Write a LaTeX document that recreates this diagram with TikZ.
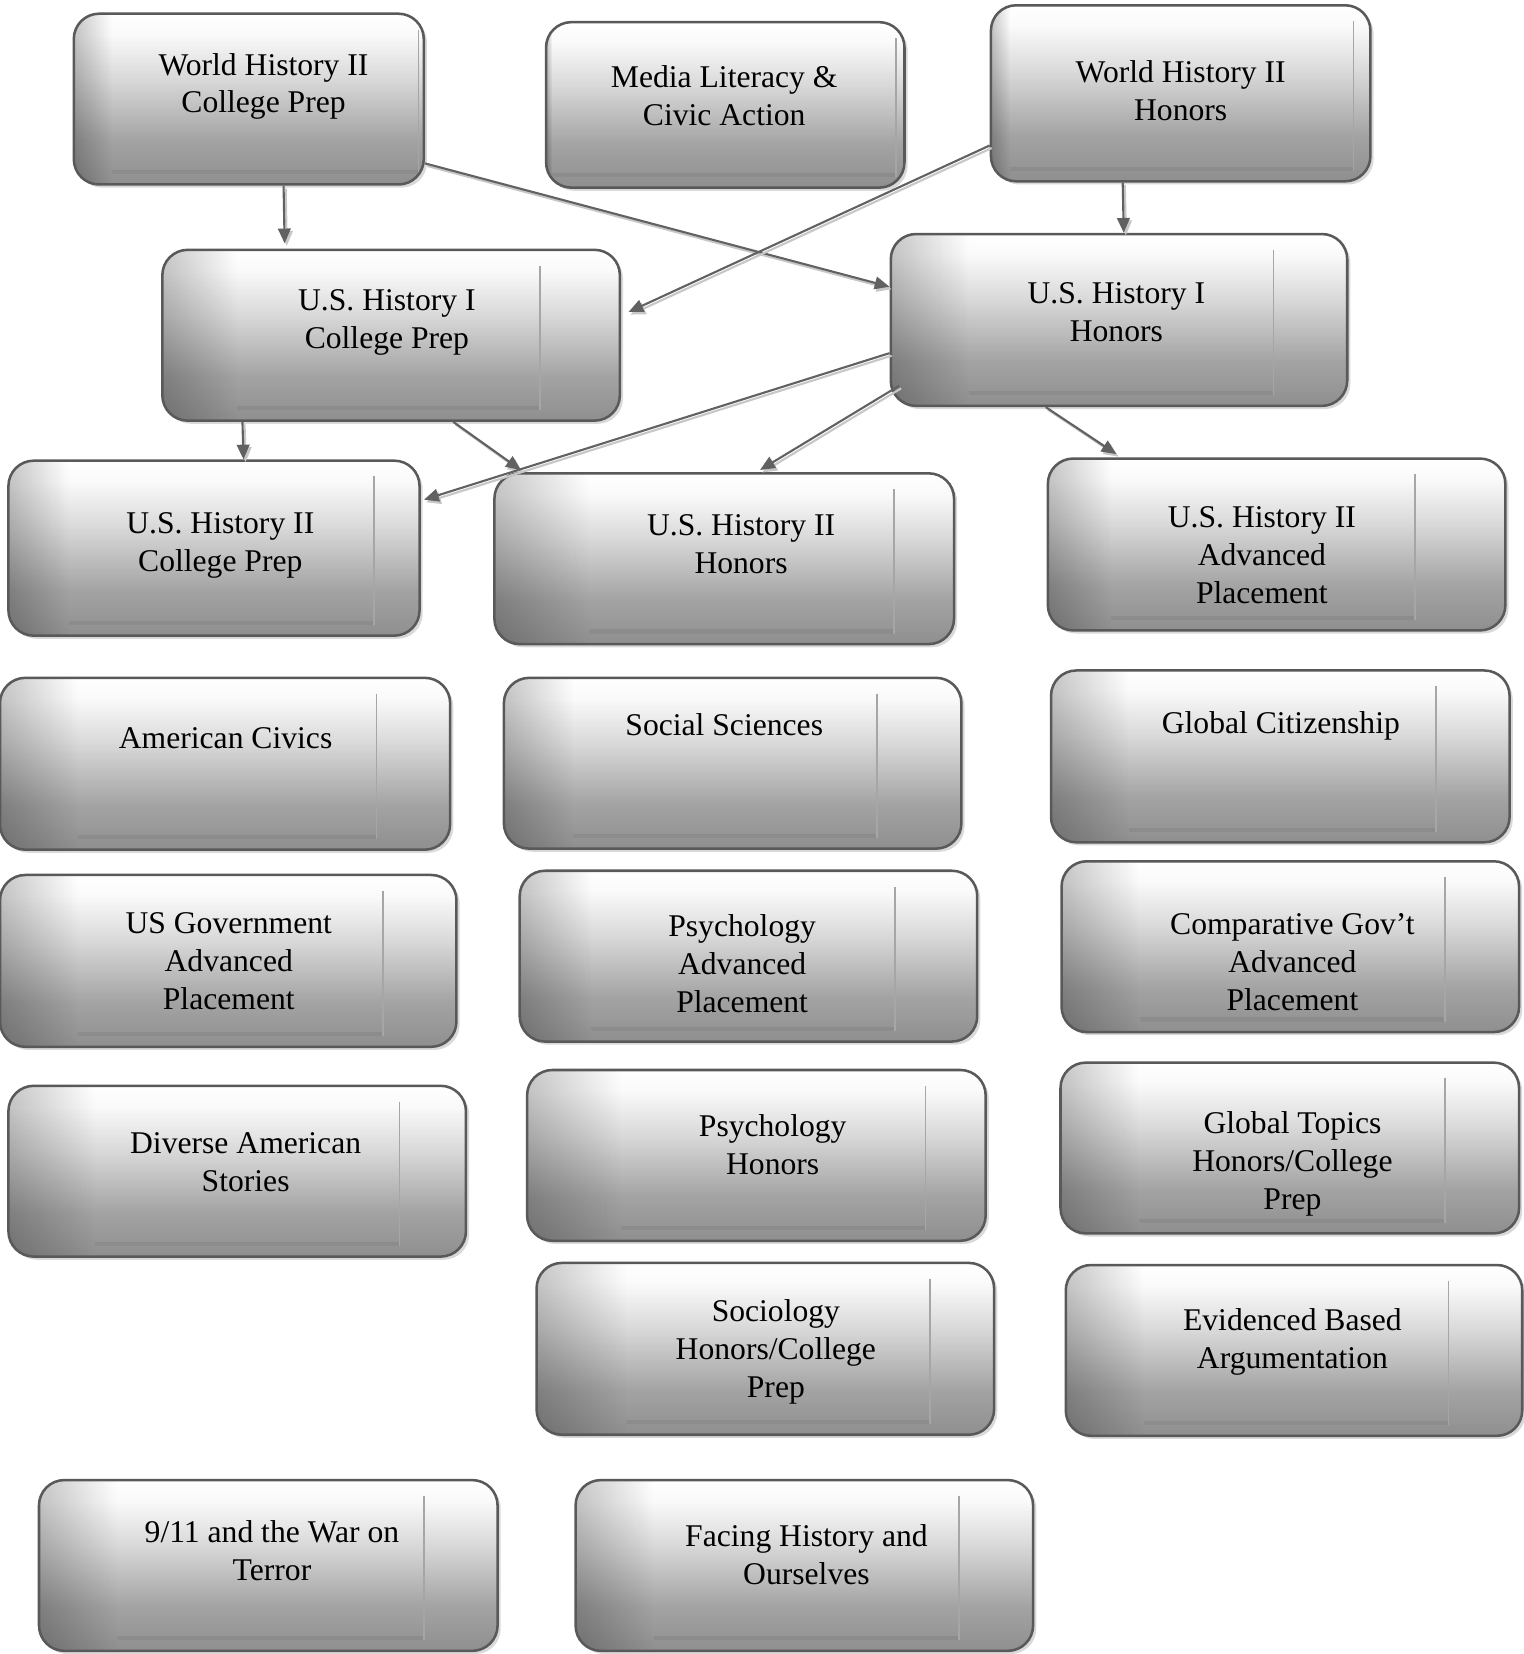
\documentclass[tikz,border=0pt]{standalone}
\usepackage{fontspec}
\setmainfont{Liberation Serif}
\usepackage{tikz}
\usetikzlibrary{positioning}
\usetikzlibrary{shadows}
\usetikzlibrary{fadings}
\usetikzlibrary{arrows.meta}

\pgfdeclareverticalshading{boxshade}{100bp}{color(0bp)=(black!44); color(25bp)=(black!44); color(38bp)=(black!36); color(56bp)=(black!15); color(69bp)=(black!2); color(75bp)=(white); color(100bp)=(white)}

\begin{document}
\begin{tikzpicture}[
	x=0.5pt, y=-0.5pt,
	font=\fontsize{15pt}{18pt}\selectfont
]
\tikzset{
    panel left/.initial=37pt,
    panel right/.initial=35pt,
    course/.style = {rectangle, rounded corners=12pt, draw=black!65, line width=1.2pt, inner sep=0pt,
        shading=boxshade, minimum width=217pt, minimum height=81pt,
        drop shadow={shadow xshift=1.5pt, shadow yshift=-1.5pt, opacity=0.3},
        path picture={
            \coordinate (pnw) at ([xshift=\pgfkeysvalueof{/tikz/panel left}, yshift=-7.5pt]path picture bounding box.north west);
            \coordinate (pse) at ([xshift=-\pgfkeysvalueof{/tikz/panel right}, yshift=5pt]path picture bounding box.south east);
            \fill[sharp corners, black, fill opacity=0.22, path fading=east] (path picture bounding box.south west) rectangle (pnw |- path picture bounding box.north);
            \fill[sharp corners, black!45] (pnw |- pse) rectangle ([yshift=2pt]pse);
            \draw[sharp corners, black!35, line width=0.8pt] (pse) -- (pse |- pnw);
        }},
    txt/.style = {align=center, inner sep=0pt},
    arr/.style = {draw=black!62, line width=1pt, -{Triangle[length=7pt,width=6pt]},
        preaction={draw=black!22, line width=1pt, transform canvas={shift={(1pt,-1.2pt)}}}}
}
\useasboundingbox (0,0) rectangle (1445,1569);

% top row
\node[course, minimum width=166pt, minimum height=81pt, panel left=18pt, panel right=2.5pt] (wh2cp) at (236,94) {};
\node[course, minimum width=170pt, minimum height=78.5pt, panel left=3pt, panel right=4pt] (media) at (688,99.5) {};
\node[course, minimum width=180pt, minimum height=83.5pt, panel left=9pt, panel right=8pt] (wh2h) at (1120,88.5) {};
\node[txt] (wh2cp-t) at (250,82) {World History II\\College Prep};
\node[txt] (media-t) at (687,91) {Media Literacy \&\\Civic Action};
\node[txt] (wh2h-t) at (1120,86) {World History II\\Honors};

% U.S. History I
\node[course, minimum height=81pt, panel left=35.5pt, panel right=38pt] (ush1cp) at (371,318) {};
\node[course, minimum width=216.5pt, minimum height=81.5pt] (ush1h) at (1061.5,303.5) {};
\node[txt] (ush1cp-t) at (367,306) {U.S. History I\\College Prep};
\node[txt] (ush1h-t) at (1059,296) {U.S. History I\\Honors};

% U.S. History II
\node[course, minimum width=195pt, minimum height=83pt, panel left=28.5pt, panel right=21.5pt] (ush2cp) at (203,520) {};
\node[course, minimum width=218pt, panel left=45pt, panel right=28.5pt] (ush2h) at (687,530) {};
\node[course, minimum height=81.5pt, panel left=30pt, panel right=43pt] (ush2ap) at (1211,516.5) {};
\node[txt] (ush2cp-t) at (209,517) {U.S. History II\\College Prep};
\node[txt] (ush2h-t) at (703,516) {U.S. History II\\Honors};
\node[txt] (ush2ap-t) at (1197,527) {U.S. History II\\Advanced\\Placement};

% electives
\node[course, minimum width=213.5pt, minimum height=81.5pt] (amciv) at (213.5,724.5) {};
\node[course, panel left=33pt, panel right=40pt] (socsci) at (695,724) {};
\node[course, minimum width=217.5pt, minimum height=81.5pt] (globcit) at (1214.5,717.5) {};
\node[txt] (amciv-t) at (214,700) {American Civics};
\node[txt] (socsci-t) at (687,687) {Social Sciences};
\node[txt] (globcit-t) at (1215,689) {Global Citizenship};

\node[course, minimum width=216.5pt, minimum height=81.5pt] (usgov) at (216.5,911.5) {};
\node[course, panel left=34pt, panel right=39pt] (psyap) at (710,907) {};
\node[course] (compgov) at (1224,898) {};
\node[txt] (usgov-t) at (217,912) {US Government\\Advanced\\Placement};
\node[txt] (psyap-t) at (704,914) {Psychology\\Advanced\\Placement};
\node[txt] (compgov-t) at (1226,913) {Comparative Gov’t\\Advanced\\Placement};

\node[course, panel left=41pt, panel right=31.5pt] (diverse) at (225,1111) {};
\node[course, minimum width=217.5pt, panel left=44.5pt, panel right=28.5pt] (psyh) at (717.5,1096) {};
\node[course, minimum width=217.5pt] (globtop) at (1223.5,1089) {};
\node[txt] (diverse-t) at (233,1102) {Diverse American\\Stories};
\node[txt] (psyh-t) at (733,1086) {Psychology\\Honors};
\node[txt] (globtop-t) at (1226,1104) {Global Topics\\Honors/College\\Prep};

\node[course, minimum height=81.5pt, panel left=42.5pt, panel right=30.5pt] (socio) at (726,1279.5) {};
\node[course, minimum width=216.5pt] (evid) at (1227.5,1281) {};
\node[txt] (socio-t) at (736,1282) {Sociology\\Honors/College\\Prep};
\node[txt] (evid-t) at (1226,1273) {Evidenced Based\\Argumentation};

\node[course, minimum width=217.5pt] (nine11) at (254.5,1485) {};
\node[course] (facing) at (763,1485) {};
\node[txt] (nine11-t) at (258,1471) {9/11 and the War on\\Terror};
\node[txt] (facing-t) at (765,1475) {Facing History and\\Ourselves};

% prerequisites
\draw[arr] ([xshift=16.5pt]wh2cp.south) -- ([xshift=-50.5pt,yshift=2.5pt]ush1cp.north);
\draw[arr] ([yshift=-30.5pt]wh2cp.east) -- ([yshift=15.75pt]ush1h.west);
\draw[arr] ([yshift=-24.75pt]wh2h.west) -- ([xshift=3.5pt,yshift=11pt]ush1cp.east);
\draw[arr] ([xshift=-27.5pt]wh2h.south) -- ([xshift=2.25pt]ush1h.north);
\draw[arr] ([xshift=-70.5pt]ush1cp.south) -- ([xshift=14pt]ush2cp.north);
\draw[arr] ([xshift=29.5pt]ush1cp.south) -- ([xshift=-96.5pt,yshift=1pt]ush2h.north);
\draw[arr] ([yshift=-15.75pt]ush1h.west) -- ([xshift=1.5pt,yshift=23pt]ush2cp.east);
\draw[arr] ([xshift=4.5pt,yshift=-31.25pt]ush1h.west) -- ([xshift=17pt,yshift=1pt]ush2h.north);
\draw[arr] ([xshift=-34.75pt]ush1h.south) -- ([xshift=-76pt,yshift=1.5pt]ush2ap.north);
\end{tikzpicture}
\end{document}
